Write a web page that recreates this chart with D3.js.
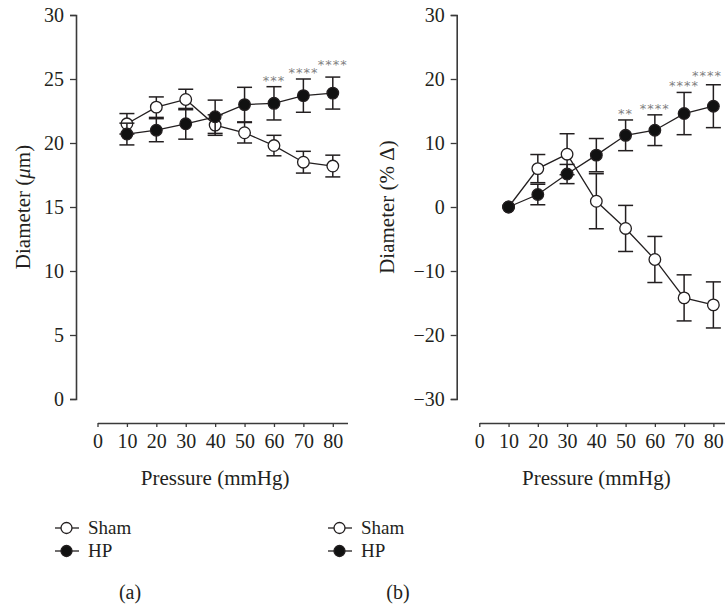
<!DOCTYPE html>
<html>
<head>
<meta charset="utf-8">
<script src="https://cdn.jsdelivr.net/npm/d3@7"></script>
<style>
    body { margin: 0; background: #fff; }
</style>
</head>
<body>
<div id="root"></div>
<script>
// data
const pressures = [10, 20, 30, 40, 50, 60, 70, 80];

const shamDiameter = [21.5, 22.8, 23.4, 21.4, 20.8, 19.8, 18.5, 18.2];
const shamDiameterErr = [0.8, 0.8, 0.8, 0.8, 0.8, 0.8, 0.85, 0.85];
const hpDiameter = [20.7, 21.0, 21.5, 22.05, 23.0, 23.1, 23.7, 23.9];
const hpDiameterErr = [0.85, 0.9, 1.2, 1.3, 1.35, 1.3, 1.3, 1.25];
const starsDiameter = ["", "", "", "", "", "***", "****", "****"];

const shamChange = [0, 6.0, 8.25, 0.9, -3.35, -8.2, -14.2, -15.3];
const shamChangeErr = [0, 2.2, 3.2, 4.3, 3.6, 3.6, 3.6, 3.6];
const hpChange = [0, 1.95, 5.15, 8.1, 11.2, 12.0, 14.6, 15.75];
const hpChangeErr = [0, 1.6, 1.5, 2.6, 2.4, 2.4, 3.3, 3.35];
const starsChange = ["", "", "", "", "**", "****", "****", "****"];

const xTicks = [0, 10, 20, 30, 40, 50, 60, 70, 80];
const seriesNames = ["Sham", "HP"];
const panelLabels = ["(a)", "(b)"];

const width = 725, height = 608;
const ink = '#231f20', axisInk = '#3a3a3a';
const serif = '"Liberation Serif", "DejaVu Serif", serif';
const fontSize = '20px';

let svg = d3.select('#root').append('svg')
    .attr('width', width)
    .attr('height', height)
    .style('font-family', serif);

function drawPanel(opts) {
    let { x0, x1, yAxisX, yDomain, majorStep, minorStep, yTitle, sham, shamErr, hp, hpErr, stars, lastStarLift, label, legendX, labelX, titleX } = opts;

    let x = d3.scaleLinear().domain([0, 85]).range([x0, x1]);
    let y = d3.scaleLinear().domain(yDomain).range([399, 15]);

    let g = svg.append('g');

    // y axis, major + minor ticks
    let yAxis = g.append('g').attr('transform', 'translate(' + yAxisX + ',0)');
    yAxis.call(d3.axisLeft(y).tickValues(d3.range(yDomain[0], yDomain[1] + 0.01, minorStep)).tickSize(3).tickFormat(''));
    yAxis.call(d3.axisLeft(y).tickValues(d3.range(yDomain[0], yDomain[1] + 0.01, majorStep)).tickSize(6).tickPadding(6)
        .tickFormat(d => d < 0 ? '\u2212' + Math.abs(d) : d));
    yAxis.attr('font-family', null).attr('font-size', null);
    yAxis.selectAll('path.domain').attr('stroke', axisInk).attr('stroke-width', 1.6);
    yAxis.selectAll('line').attr('stroke', axisInk).attr('stroke-width', 1.3);
    yAxis.selectAll('text').style('font-family', serif).style('font-size', fontSize).style('fill', ink).attr('dy', '0.34em');

    // x axis sits below the plot
    let xAxis = g.append('g').attr('transform', 'translate(0,423)');
    xAxis.call(d3.axisBottom(x).tickValues(xTicks).tickSize(4).tickSizeOuter(0).tickPadding(7));
    xAxis.attr('font-family', null).attr('font-size', null);
    xAxis.selectAll('path.domain').attr('stroke', axisInk).attr('stroke-width', 1.4);
    xAxis.selectAll('line').attr('stroke', axisInk).attr('stroke-width', 1.3);
    xAxis.selectAll('text').style('font-family', serif).style('font-size', fontSize).style('fill', ink);

    g.append('text')
        .attr('x', (x(0) + x(80)) / 2)
        .attr('y', 485)
        .attr('text-anchor', 'middle')
        .style('font-size', '21px').style('fill', ink)
        .text('Pressure (mmHg)');

    g.append('text')
        .attr('transform', 'translate(' + titleX + ',' + 207 + ') rotate(-90)')
        .attr('text-anchor', 'middle')
        .style('font-size', '21px').style('fill', ink)
        .html(yTitle);

    let line = d3.line().x((d, i) => x(pressures[i])).y(d => y(d));

    [[sham, shamErr, '#fff'], [hp, hpErr, '#111']].forEach(function ([vals, errs, fill]) {
        let pts = vals.map((v, i) => ({ p: pressures[i], v: v, e: errs[i] }));
        let s = g.append('g');
        s.append('path')
            .datum(vals)
            .attr('d', line)
            .attr('fill', 'none')
            .attr('stroke', ink)
            .attr('stroke-width', 1.3);

        let bars = s.selectAll('.err')
            .data(pts.filter(d => d.e > 0))
            .enter()
            .append('g')
            .attr('class', 'err');
        bars.append('line')
            .attr('x1', d => x(d.p))
            .attr('x2', d => x(d.p))
            .attr('y1', d => y(d.v - d.e))
            .attr('y2', d => y(d.v + d.e));
        bars.append('line')
            .attr('x1', d => x(d.p) - 7.5)
            .attr('x2', d => x(d.p) + 7.5)
            .attr('y1', d => y(d.v + d.e))
            .attr('y2', d => y(d.v + d.e));
        bars.append('line')
            .attr('x1', d => x(d.p) - 7.5)
            .attr('x2', d => x(d.p) + 7.5)
            .attr('y1', d => y(d.v - d.e))
            .attr('y2', d => y(d.v - d.e));
        bars.selectAll('line').attr('stroke', ink).attr('stroke-width', 1.5);

        s.selectAll('.pt')
            .data(pts)
            .enter()
            .append('circle')
            .attr('class', 'pt')
            .attr('cx', d => x(d.p))
            .attr('cy', d => y(d.v))
            .attr('r', 5.8)
            .attr('fill', fill)
            .attr('stroke', ink)
            .attr('stroke-width', 1.3);
    });

    // significance marks above the HP bars (last one kept inside the page)
    g.append('g')
        .style('opacity', 0.99)
        .selectAll('.star')
        .data(stars)
        .enter()
        .append('text')
        .attr('class', 'star')
        .attr('x', (d, i) => Math.min(x(pressures[i]), width - 18))
        .attr('y', (d, i) => y(hp[i] + hpErr[i]) - 2 - (i == 7 ? lastStarLift : 0))
        .attr('text-anchor', 'middle')
        .style('font-family', '"DejaVu Sans", sans-serif')
        .style('font-size', '13px')
        .style('letter-spacing', '1px')
        .style('fill', '#808080')
        .text(d => d);

    // legend
    seriesNames.forEach(function (name, i) {
        let ly = 528 + i * 23;
        g.append('line')
            .attr('x1', legendX).attr('x2', legendX + 24)
            .attr('y1', ly).attr('y2', ly)
            .attr('stroke', ink).attr('stroke-width', 1.3);
        g.append('circle')
            .attr('cx', legendX + 11.5).attr('cy', ly).attr('r', 5.5)
            .attr('fill', i == 0 ? '#fff' : '#111')
            .attr('stroke', ink).attr('stroke-width', 1.3);
        g.append('text')
            .attr('x', legendX + 33).attr('y', ly + 6)
            .style('font-size', '19px').style('fill', ink)
            .text(name);
    });

    g.append('text')
        .attr('x', labelX).attr('y', 599)
        .attr('text-anchor', 'middle')
        .style('font-size', fontSize).style('fill', ink)
        .text(label);
}

drawPanel({
    x0: 97.5, x1: 347.5, yAxisX: 76,
    yDomain: [0, 30], majorStep: 5, minorStep: 2.5,
    yTitle: 'Diameter (<tspan font-style="italic">\u03bc</tspan>m)',
    sham: shamDiameter, shamErr: shamDiameterErr,
    hp: hpDiameter, hpErr: hpDiameterErr,
    stars: starsDiameter, lastStarLift: 6, label: panelLabels[0],
    legendX: 55, labelX: 130, titleX: 30
});

drawPanel({
    x0: 479.3, x1: 728, yAxisX: 456.7,
    yDomain: [-30, 30], majorStep: 10, minorStep: 5,
    yTitle: 'Diameter (% \u0394)',
    sham: shamChange, shamErr: shamChangeErr,
    hp: hpChange, hpErr: hpChangeErr,
    stars: starsChange, lastStarLift: 3, label: panelLabels[1],
    legendX: 328, labelX: 398, titleX: 394
});
</script>
</body>
</html>
